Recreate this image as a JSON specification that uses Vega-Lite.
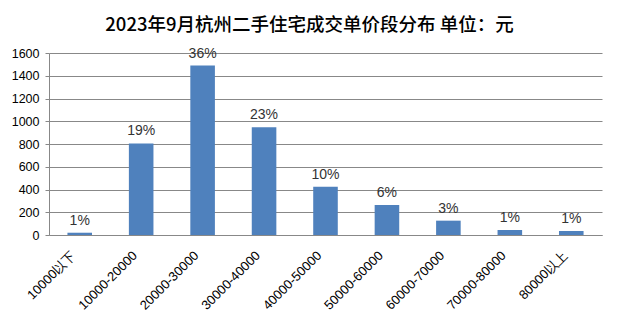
{
  "$schema": "https://vega.github.io/schema/vega-lite/v6.json",
  "autosize": "none",
  "width": 553,
  "height": 182,
  "padding": {"left": 49, "top": 53, "right": 16, "bottom": 92},
  "background": "white",
  "title": {
    "text": "2023年9月杭州二手住宅成交单价段分布 单位：元",
    "fontSize": 18.5,
    "font": "Noto Sans CJK SC",
    "fontWeight": 500,
    "color": "#000000",
    "offset": 12,
    "dx": -16
  },
  "data": {
    "values": [
      {"range": "10000以下", "count": 20, "pct": "1%"},
      {"range": "10000-20000", "count": 805, "pct": "19%"},
      {"range": "20000-30000", "count": 1490, "pct": "36%"},
      {"range": "30000-40000", "count": 948, "pct": "23%"},
      {"range": "40000-50000", "count": 425, "pct": "10%"},
      {"range": "50000-60000", "count": 264, "pct": "6%"},
      {"range": "60000-70000", "count": 126, "pct": "3%"},
      {"range": "70000-80000", "count": 44, "pct": "1%"},
      {"range": "80000以上", "count": 36, "pct": "1%"}
    ]
  },
  "config": {
    "view": {"stroke": null},
    "font": "Noto Sans CJK SC"
  },
  "encoding": {
    "x": {
      "field": "range",
      "type": "nominal",
      "sort": null,
      "scale": {"paddingInner": 0.6, "paddingOuter": 0.3},
      "axis": {
        "title": null,
        "labelAngle": -45,
        "labelAlign": "right",
        "labelBaseline": "middle",
        "labelFontSize": 13,
        "labelColor": "#000000",
        "labelFont": "Liberation Sans",
        "labelPadding": 18,
        "labelOffset": -6,
        "ticks": false,
        "domainColor": "#888888",
        "labelOverlap": false
      }
    },
    "y": {
      "field": "count",
      "type": "quantitative",
      "scale": {"domain": [0, 1600]},
      "axis": {
        "title": null,
        "format": "d",
        "values": [0, 200, 400, 600, 800, 1000, 1200, 1400, 1600],
        "labelFontSize": 12.5,
        "labelFont": "Liberation Sans",
        "labelColor": "#000000",
        "labelPadding": 6,
        "tickSize": 4,
        "tickColor": "#888888",
        "domainColor": "#888888",
        "gridColor": "#888888",
        "gridOpacity": 1
      }
    }
  },
  "layer": [
    {"mark": {"type": "bar", "color": "#4F81BD"}},
    {
      "mark": {"type": "text", "dy": -5, "fontSize": 14, "font": "Liberation Sans", "color": "#333333", "baseline": "bottom"},
      "encoding": {"text": {"field": "pct"}}
    }
  ]
}
